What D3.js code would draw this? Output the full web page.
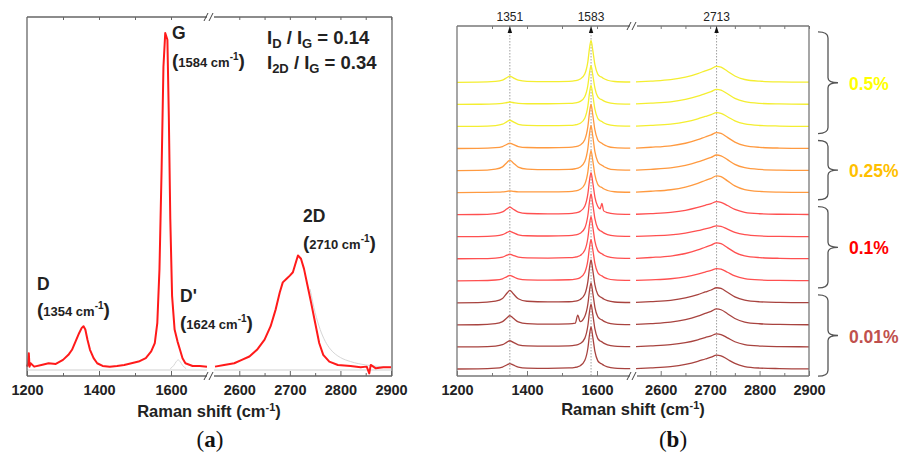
<!DOCTYPE html>
<html>
<head>
<meta charset="utf-8">
<script src="https://cdn.jsdelivr.net/npm/d3@7"></script>
<style>
  body { margin: 0; background: #fff; }
  svg text { font-family: "Liberation Sans", Arial, sans-serif; }
</style>
</head>
<body>
<div id="chart"></div>
<script>
///////////// Data //////////////
// panel (a): single spectrum, intensity normalised to the G peak
var shiftA = [1200, 1203, 1205, 1207, 1210, 1220, 1240, 1260, 1280, 1300, 1315, 1325, 1335, 1345, 1352, 1357, 1362, 1368, 1375, 1385, 1395,
  1410, 1430, 1450, 1470, 1490, 1510, 1530, 1545, 1555, 1562, 1568, 1574, 1579, 1584, 1590, 1594, 1598, 1603, 1610, 1618, 1625, 1632,
  1640, 1660, 1680, 1700,
  2552, 2570, 2590, 2605, 2620, 2635, 2650, 2662, 2672, 2680, 2686, 2693, 2700, 2706, 2710, 2716, 2722, 2728, 2735, 2742, 2750, 2758,
  2766, 2778, 2795, 2820, 2840, 2852, 2857, 2860, 2870, 2885, 2900];
var intA = [.01, .02, .05, .01, .02, .01, .015, .02, .018, .03, .045, .06, .085, .11, .125, .13, .12, .09, .06, .035, .02,
  .012, .01, .012, .015, .02, .025, .035, .055, .08, .14, .3, .6, .9, 1.0, .98, .75, .45, .22, .12, .085, .06, .035,
  .02, .012, .012, .01,
  .01, .015, .02, .03, .04, .06, .09, .13, .18, .23, .26, .27, .28, .29, .31, .34, .33, .30, .25, .2, .14, .08,
  .045, .025, .015, .012, .008, .01, -.01, .015, .005, .008, .008];
// faint fitted components in panel (a)
var fitDp_shift = [1598, 1608, 1614, 1620, 1626, 1632, 1642];
var fitDp_int = [.004, .014, .024, .03, .024, .014, .004];
var fit2D_shift = [2740, 2750, 2760, 2770, 2780, 2790, 2800, 2820, 2850, 2880, 2900];
var fit2D_int = [.24, .17, .12, .085, .062, .047, .037, .025, .015, .01, .008];
var peakLabelsA = ['D', "D'", 'G', '2D'];
var peakPosA = ['1354', '1624', '1584', '2710'];
var ratioNames = [['D', 'G'], ['2D', 'G']];
var ratioValues = ['0.14', '0.34'];

// panel (b): 14 stacked spectra on a shared Raman shift grid
var shiftB = [1200, 1260, 1310, 1330, 1343, 1351, 1360, 1375, 1400, 1460, 1520, 1538, 1545, 1552, 1565, 1574, 1579, 1583, 1588,
  1594, 1602, 1609, 1614, 1619, 1630, 1650, 1695,
  2550, 2580, 2620, 2650, 2675, 2690, 2702, 2713, 2722, 2735, 2750, 2770, 2800, 2840, 2900];
var int_05_a = [0, .003, .022, .054, .116, .148, .113, .052, .025, .018, .025, .04, .053, .078, .2, .5, .84, 1.0, .76, .42, .2, .14, .12, .09, .05, .02, .008,
  .011, .03, .065, .125, .209, .274, .323, .38, .361, .266, .152, .068, .027, .011, .004];
var int_05_b = [0, .003, .011, .023, .045, .057, .045, .024, .016, .015, .023, .037, .049, .072, .184, .46, .773, .92, .699, .386, .184, .129, .11, .083, .046, .018, .007,
  .011, .029, .061, .119, .198, .259, .306, .36, .342, .252, .144, .065, .025, .011, .004];
var int_05_c = [0, .003, .022, .054, .116, .148, .113, .052, .025, .018, .025, .039, .052, .076, .196, .49, .823, .98, .745, .412, .196, .137, .118, .088, .049, .02, .008,
  .01, .026, .056, .109, .182, .238, .281, .33, .314, .231, .132, .059, .023, .01, .003];
var int_025_a = [0, .003, .019, .047, .101, .128, .098, .047, .024, .018, .026, .042, .056, .082, .21, .525, .882, 1.05, .798, .441, .21, .147, .126, .095, .053, .021, .008,
  .011, .03, .065, .125, .209, .274, .323, .38, .361, .266, .152, .068, .027, .011, .004];
var int_025_b = [0, .003, .034, .088, .194, .249, .188, .083, .035, .021, .027, .043, .057, .083, .214, .535, .899, 1.07, .813, .449, .214, .15, .128, .096, .054, .021, .009,
  .011, .03, .063, .122, .204, .266, .315, .37, .352, .259, .148, .067, .026, .011, .004];
var int_025_c = [0, .003, .009, .016, .03, .038, .031, .019, .015, .015, .025, .04, .053, .078, .2, .5, .84, 1.0, .76, .42, .2, .14, .12, .09, .05, .02, .008,
  .012, .032, .068, .132, .22, .288, .34, .4, .38, .28, .16, .072, .028, .012, .004];
var int_01_a = [0, .003, .025, .064, .14, .178, .135, .061, .027, .018, .025, .04, .053, .078, .2, .5, .84, 1.0, .76, .42, .2, .14, .27, .09, .05, .02, .008,
  .009, .025, .053, .102, .171, .223, .264, .31, .295, .217, .124, .056, .022, .009, .003];
var int_01_b = [0, .003, .019, .047, .101, .128, .098, .046, .023, .017, .026, .041, .054, .08, .204, .51, .857, 1.02, .775, .428, .204, .143, .122, .092, .051, .02, .008,
  .008, .021, .044, .086, .143, .187, .221, .26, .247, .182, .104, .047, .018, .008, .003];
var int_01_c = [0, .003, .017, .04, .085, .108, .083, .04, .021, .017, .025, .04, .053, .078, .2, .5, .84, 1.0, .76, .42, .2, .14, .12, .09, .05, .02, .008,
  .011, .03, .065, .125, .209, .274, .323, .38, .361, .266, .152, .068, .027, .011, .004];
var int_01_d = [0, .003, .019, .047, .101, .128, .098, .046, .023, .017, .025, .039, .052, .076, .196, .49, .823, .98, .745, .412, .196, .137, .118, .088, .049, .02, .008,
  .009, .023, .049, .096, .16, .209, .247, .29, .276, .203, .116, .052, .02, .009, .003];
var int_001_a = [0, .003, .04, .105, .233, .298, .224, .097, .038, .021, .026, .041, .054, .08, .204, .51, .857, 1.02, .775, .428, .204, .143, .122, .092, .051, .02, .008,
  .011, .029, .061, .119, .198, .259, .306, .36, .342, .252, .144, .065, .025, .011, .004];
var int_001_b = [0, .003, .03, .077, .171, .218, .164, .073, .031, .019, .025, .04, .233, .078, .2, .5, .84, 1.0, .76, .42, .2, .14, .12, .09, .05, .02, .008,
  .011, .03, .065, .125, .209, .274, .323, .38, .361, .266, .152, .068, .027, .011, .004];
var int_001_c = [0, .003, .022, .054, .116, .148, .113, .052, .025, .018, .026, .041, .054, .08, .204, .51, .857, 1.02, .775, .428, .204, .143, .122, .092, .051, .02, .008,
  .009, .025, .053, .102, .171, .223, .264, .31, .295, .217, .124, .056, .022, .009, .003];
var int_001_d = [0, .003, .019, .047, .101, .128, .098, .046, .023, .017, .025, .04, .053, .078, .2, .5, .84, 1.0, .76, .42, .2, .14, .12, .09, .05, .02, .008,
  .01, .026, .056, .109, .182, .238, .281, .33, .314, .231, .132, .059, .023, .01, .003];

var concLabels = ['0.5%', '0.25%', '0.1%', '0.01%'];
var concSpectra = [
  [int_05_a, int_05_b, int_05_c],
  [int_025_a, int_025_b, int_025_c],
  [int_01_a, int_01_b, int_01_c, int_01_d],
  [int_001_a, int_001_b, int_001_c, int_001_d]
];
var peakMarksB = [1351, 1583, 2713];
var majorL = [1200, 1400, 1600], minorL = [1300, 1500];
var majorR = [2600, 2700, 2800, 2900], minorR = [2650, 2750, 2850];

///////////// Canvas //////////////
var svg = d3.select('#chart').append('svg')
  .attr('width', 899)
  .attr('height', 456);

var lineColors = ['#f4ee30', '#ff9a40', '#ff5050', '#a8433f'];
var labelColors = ['#ffff00', '#ffc000', '#ff0000', '#c0504d'];

// split a spectrum into the two parts of the broken axis
function split(xs, ys) {
  var pts = xs.map(function(x, i) { return [x, ys[i]]; });
  return [pts.filter(function(p) { return p[0] < 2000; }), pts.filter(function(p) { return p[0] >= 2000; })];
}

// frame, ticks and tick labels of a broken x axis
function draw_frame(xL, xR, left, right, top, bottom, breakX, frameColor) {
  var g = svg.append('g');
  var segs = [[left, top, left, bottom], [right, top, right, bottom],
    [left, top, breakX - 3, top], [breakX + 4, top, right, top],
    [left, bottom, breakX - 3, bottom], [breakX + 4, bottom, right, bottom]];
  segs.forEach(function(s) {
    g.append('line').attr('x1', s[0]).attr('y1', s[1]).attr('x2', s[2]).attr('y2', s[3])
      .attr('stroke', frameColor).attr('stroke-width', 1.3);
  });
  [top, bottom].forEach(function(y) {
    [-4, 1].forEach(function(dx) {
      g.append('line').attr('x1', breakX + dx - 2).attr('y1', y + 4).attr('x2', breakX + dx + 2).attr('y2', y - 4)
        .attr('stroke', '#444').attr('stroke-width', 1);
    });
  });
  [[xL, majorL, minorL], [xR, majorR, minorR]].forEach(function(a) {
    var ax = g.append('g').attr('transform', 'translate(0,' + bottom + ')')
      .call(d3.axisBottom(a[0]).tickValues(a[1]).tickSize(-5).tickPadding(9).tickFormat(d3.format('d')));
    ax.select('.domain').remove();
    ax.selectAll('line').attr('stroke', frameColor);
    ax.selectAll('text').attr('font-family', '"Liberation Sans", Arial, sans-serif')
      .attr('font-size', 14.5).attr('font-weight', 'bold').attr('fill', '#222');
    var mn = g.append('g').attr('transform', 'translate(0,' + bottom + ')')
      .call(d3.axisBottom(a[0]).tickValues(a[2]).tickSize(-3).tickFormat(''));
    mn.select('.domain').remove();
    mn.selectAll('line').attr('stroke', frameColor);
    var tp = g.append('g').attr('transform', 'translate(0,' + top + ')')
      .call(d3.axisTop(a[0]).tickValues(a[1].concat(a[2]).filter(function(v) { return v !== a[0].domain()[0]; }))
        .tickSize(-3).tickFormat(''));
    tp.select('.domain').remove();
    tp.selectAll('line').attr('stroke', frameColor);
  });
}

// "Raman shift (cm-1)" axis title
function axis_title(cx, y) {
  var t = svg.append('text').attr('x', cx).attr('y', y).attr('text-anchor', 'middle')
    .attr('font-size', 16.5).attr('font-weight', 'bold').attr('fill', '#222');
  t.append('tspan').text('Raman shift (cm');
  t.append('tspan').attr('font-size', 11).attr('dy', -6).text('-1');
  t.append('tspan').attr('dy', 6).text(')');
}

function panel_letter(cx, letter) {
  var t = svg.append('text').attr('x', cx).attr('y', 447).attr('text-anchor', 'middle')
    .attr('font-size', 23).attr('fill', '#111')
    .style('font-family', '"Liberation Serif", "DejaVu Serif", serif');
  t.append('tspan').text('(');
  t.append('tspan').attr('font-weight', 'bold').text(letter);
  t.append('tspan').text(')');
}

///////////// Panel (a) //////////////
var a_xL = d3.scaleLinear().domain([1200, 1700]).range([27, 207]);
var a_xR = d3.scaleLinear().domain([2550, 2900]).range([214, 391]);
var a_y = d3.scaleLinear().domain([0, 1]).range([370, 33]);
var a_x = function(v) { return v < 2000 ? a_xL(v) : a_xR(v); };

var a_line = d3.line().x(function(d) { return a_x(d[0]); }).y(function(d) { return a_y(d[1]); });

// faint fit baseline and components
[[1200, 1700], [2550, 2900]].forEach(function(r) {
  svg.append('path').attr('d', a_line([[r[0], 0], [r[1], 0]]))
    .attr('fill', 'none').attr('stroke', '#cfcfcf').attr('stroke-width', 1);
});
[[fitDp_shift, fitDp_int], [fit2D_shift, fit2D_int]].forEach(function(f) {
  svg.append('path').attr('d', a_line.curve(d3.curveMonotoneX)(split(f[0], f[1])[f[0][0] < 2000 ? 0 : 1]))
    .attr('fill', 'none').attr('stroke', '#d6d6d6').attr('stroke-width', 1);
});
a_line.curve(d3.curveLinear);

split(shiftA, intA).forEach(function(part) {
  svg.append('path').attr('d', a_line(part))
    .attr('fill', 'none').attr('stroke', '#ff1a1a').attr('stroke-width', 2).attr('stroke-linejoin', 'round');
});

draw_frame(a_xL, a_xR, 27, 392, 17, 376, 210, '#666');
axis_title(209, 417);
panel_letter(210, 'a');

// peak annotations
var a_ann = [
  { name: peakLabelsA[0], pos: peakPosA[0], x: 37, y: 290, y2: 316 },
  { name: peakLabelsA[1], pos: peakPosA[1], x: 180, y: 302, y2: 329 },
  { name: peakLabelsA[2], pos: peakPosA[2], x: 172, y: 39, y2: 67 },
  { name: peakLabelsA[3], pos: peakPosA[3], x: 303, y: 222, y2: 249 }
];
a_ann.forEach(function(d) {
  svg.append('text').attr('x', d.x).attr('y', d.y).attr('font-size', 17.5).attr('font-weight', 'bold')
    .attr('fill', '#222').text(d.name);
  var t = svg.append('text').attr('x', d.x).attr('y', d.y2).attr('font-weight', 'bold').attr('fill', '#222');
  t.append('tspan').attr('font-size', 19).text('(');
  t.append('tspan').attr('font-size', 13).text(d.pos + ' cm');
  t.append('tspan').attr('font-size', 10).attr('dy', -7).text('-1');
  t.append('tspan').attr('font-size', 19).attr('dy', 7).text(')');
});

ratioNames.forEach(function(r, i) {
  var t = svg.append('text').attr('x', 267).attr('y', 44 + i * 25)
    .attr('font-size', 18.5).attr('font-weight', 'bold').attr('fill', '#222');
  t.append('tspan').text('I');
  t.append('tspan').attr('font-size', 13).attr('dy', 4).text(r[0]);
  t.append('tspan').attr('dy', -4).text(' / I');
  t.append('tspan').attr('font-size', 13).attr('dy', 4).text(r[1]);
  t.append('tspan').attr('dy', -4).text(' = ' + ratioValues[i]);
});

///////////// Panel (b) //////////////
var b_xL = d3.scaleLinear().domain([1200, 1700]).range([457, 632]);
var b_xR = d3.scaleLinear().domain([2550, 2900]).range([636, 809]);
var b_x = function(v) { return v < 2000 ? b_xL(v) : b_xR(v); };
var b_y = d3.scaleLinear().domain([0, 1]).range([369, 327]);
var b_step = 0.525;
var nSpectra = d3.sum(concSpectra, function(g) { return g.length; });

// dotted peak markers
peakMarksB.forEach(function(p) {
  svg.append('line').attr('x1', b_x(p)).attr('x2', b_x(p)).attr('y1', 26).attr('y2', 376)
    .attr('stroke', '#888').attr('stroke-width', 0.8).attr('stroke-dasharray', '1.5,1.5');
});

var b_line = d3.line().curve(d3.curveMonotoneX);
var idx = 0;
concSpectra.forEach(function(group, gi) {
  var first = idx;
  group.forEach(function(ys) {
    var off = (nSpectra - 1 - idx) * b_step;
    split(shiftB, ys).forEach(function(part) {
      svg.append('path')
        .attr('d', b_line.x(function(d) { return b_x(d[0]); }).y(function(d) { return b_y(d[1] + off); })(part))
        .attr('fill', 'none').attr('stroke', lineColors[gi]).attr('stroke-width', 1.3);
    });
    idx++;
  });
  // curly bracket and concentration label
  var yTop = b_y((nSpectra - 1 - first) * b_step + (gi === 0 ? 1.2 : 0.19));
  var yBot = b_y((nSpectra - idx) * b_step - 0.17);
  var ym = (yTop + yBot) / 2, bx = 828;
  svg.append('path')
    .attr('d', 'M' + (bx - 10) + ',' + yTop + ' Q' + bx + ',' + yTop + ' ' + bx + ',' + (yTop + 6) +
      ' L' + bx + ',' + (ym - 5) + ' Q' + bx + ',' + ym + ' ' + (bx + 10) + ',' + ym +
      ' Q' + bx + ',' + ym + ' ' + bx + ',' + (ym + 5) +
      ' L' + bx + ',' + (yBot - 6) + ' Q' + bx + ',' + yBot + ' ' + (bx - 10) + ',' + yBot)
    .attr('fill', 'none').attr('stroke', '#555').attr('stroke-width', 1.3);
  svg.append('text').attr('x', 849).attr('y', ym + 7).attr('font-size', 17.5).attr('font-weight', 'bold')
    .attr('fill', labelColors[gi]).text(concLabels[gi]);
});

draw_frame(b_xL, b_xR, 457, 809, 26, 376, 633, '#777');

// peak position labels with small arrowheads
peakMarksB.forEach(function(p) {
  var x = b_x(p);
  svg.append('path').attr('d', 'M' + (x - 2.2) + ',33 L' + x + ',26 L' + (x + 2.2) + ',33 Z').attr('fill', '#111');
  svg.append('text').attr('x', x).attr('y', 21).attr('text-anchor', 'middle')
    .attr('font-size', 12).attr('fill', '#222').text(p);
});

axis_title(633, 415);
panel_letter(673, 'b');
</script>
</body>
</html>
